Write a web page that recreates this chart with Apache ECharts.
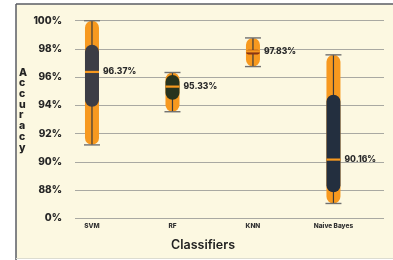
<!DOCTYPE html>
<html>
<head>
<meta charset="utf-8">
<script src="https://cdn.jsdelivr.net/npm/echarts@6/dist/echarts.min.js"></script>
<style>
  html, body { margin: 0; padding: 0; background: #fff; }
  #chart { width: 393px; height: 260px; }
</style>
</head>
<body>
<div id="chart"></div>
<script>
// box plot data (percent)
const categories = ['SVM', 'RF', 'KNN', 'Naive Bayes'];
const minVals = [91.2, 93.55, 96.75, 87.05];
const q1Vals = [93.9, 94.4, 97.6, 87.85];
const medianVals = [96.37, 95.33, 97.83, 90.16];
const q3Vals = [98.3, 96.15, 97.95, 94.75];
const maxVals = [100, 96.33, 98.78, 97.58];
const yTicks = [86, 88, 90, 92, 94, 96, 98, 100];

const boxColors = ['#3c3d45', '#27331d', '#8a3512', '#232f3f'];
const orange = '#f7991f';
const fontFam = 'Inter, "DejaVu Sans", sans-serif';

const chart = echarts.init(document.getElementById('chart'));

const rows = categories.map((c, i) => [i, minVals[i], q1Vals[i], medianVals[i], q3Vals[i], maxVals[i]]);

function renderBox(params, api) {
  const i = api.value(0);
  const x = api.coord([i, 0])[0];
  const yMin = api.coord([i, api.value(1)])[1];
  const yQ1 = api.coord([i, api.value(2)])[1];
  const yMed = api.coord([i, api.value(3)])[1];
  const yQ3 = api.coord([i, api.value(4)])[1];
  const yMax = api.coord([i, api.value(5)])[1];
  const w = 14;
  const boxH = yQ1 - yQ3;
  return {
    type: 'group',
    children: [
      { type: 'rect', shape: { x: x - w / 2, y: yMax, width: w, height: yMin - yMax, r: w / 2 },
        style: { fill: orange } },
      { type: 'line', shape: { x1: x, y1: yMax, x2: x, y2: yMin },
        style: { stroke: '#3a3a3a', lineWidth: 1.2 } },
      { type: 'rect', shape: { x: x - w / 2, y: yQ3, width: w, height: boxH, r: Math.min(w / 2, boxH / 2) },
        style: { fill: boxColors[i] } },
      { type: 'line', shape: { x1: x - w / 2, y1: yMed, x2: x + w / 2, y2: yMed },
        style: { stroke: orange, lineWidth: 2.2 } },
      { type: 'line', shape: { x1: x - w / 2 - 1, y1: yMax, x2: x + w / 2 + 1, y2: yMax },
        style: { stroke: '#707070', lineWidth: 1.4 } },
      { type: 'line', shape: { x1: x - w / 2 - 1, y1: yMin, x2: x + w / 2 + 1, y2: yMin },
        style: { stroke: '#707070', lineWidth: 1.4 } },
      { type: 'text', x: x + 11, y: yMed,
        style: { text: api.value(3).toFixed(2) + '%', fill: '#2a2a2a', font: '800 8.5px ' + fontFam,
                 textVerticalAlign: 'middle', verticalAlign: 'middle' } }
    ]
  };
}

chart.setOption({
  backgroundColor: '#ffffff',
  animation: false,
  graphic: [
    { type: 'rect', z: -10, shape: { x: 16, y: 4, width: 380, height: 254 },
      style: { fill: '#fcf8e1' } },
    { type: 'line', z: -9, shape: { x1: 16, y1: 4, x2: 393, y2: 4 }, style: { stroke: '#5a5d63', lineWidth: 1.5 } },
    { type: 'line', z: -9, shape: { x1: 16, y1: 4, x2: 16, y2: 260 }, style: { stroke: '#5a5d63', lineWidth: 1.5 } },
    { type: 'line', z: -9, shape: { x1: 16, y1: 258.5, x2: 393, y2: 258.5 }, style: { stroke: '#dcdcd0', lineWidth: 1 } },
    { type: 'text', left: 19, top: 67,
      style: { text: 'A\nc\nc\nu\nr\na\nc\ny', fill: '#222', font: '800 10.5px ' + fontFam,
               lineHeight: 10.7, align: 'center' } },
    { type: 'text', left: 171, top: 239,
      style: { text: 'Classifiers', fill: '#222', font: '600 12.5px ' + fontFam } }
  ],
  grid: { left: 75, right: 9, top: 20.7, bottom: 41.7 },
  xAxis: {
    type: 'value', min: -0.211, max: 3.628,
    axisLine: { show: false }, axisTick: { show: false }, splitLine: { show: false },
    axisLabel: {
      customValues: [0, 1, 2, 3],
      formatter: v => categories[Math.round(v)] || '',
      fontSize: 6.5, fontWeight: 800, color: '#333', fontFamily: fontFam, margin: 4
    }
  },
  yAxis: {
    type: 'value', min: 86, max: 100, interval: 2,
    axisLine: { show: false }, axisTick: { show: false },
    splitLine: { lineStyle: { color: '#a9a9a2', width: 1 } },
    axisLabel: {
      customValues: yTicks,
      formatter: v => (v === 86 ? '0' : v) + '%',
      fontSize: 10, fontWeight: 800, color: '#262626', fontFamily: fontFam, margin: 13
    }
  },
  series: [{
    type: 'custom',
    renderItem: renderBox,
    encode: { x: 0, y: [1, 2, 3, 4, 5] },
    data: rows
  }]
});
</script>
</body>
</html>
